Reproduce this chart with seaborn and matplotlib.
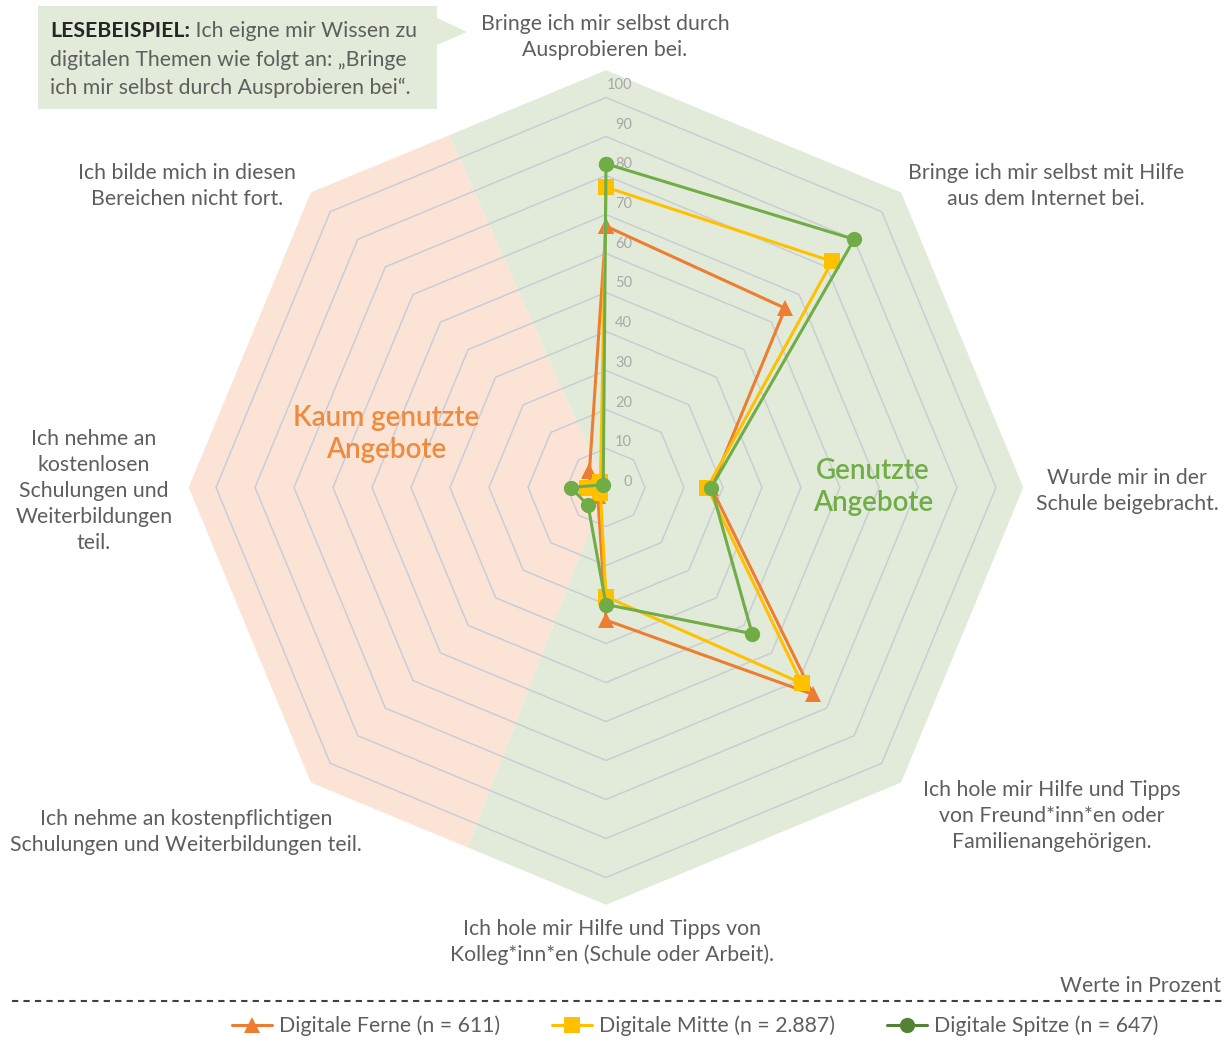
import numpy as np
import pandas as pd
import matplotlib.pyplot as plt
import seaborn as sns
from matplotlib.lines import Line2D
from matplotlib.patches import Polygon
from matplotlib.transforms import offset_copy

# Kategorien im Uhrzeigersinn, beginnend oben
kategorien = [
    "Bringe ich mir selbst durch\nAusprobieren bei.",
    "Bringe ich mir selbst mit Hilfe\naus dem Internet bei.",
    "Wurde mir in der\nSchule beigebracht.",
    "Ich hole mir Hilfe und Tipps\nvon Freund*inn*en oder\nFamilienangehörigen.",
    "Ich hole mir Hilfe und Tipps von\nKolleg*inn*en (Schule oder Arbeit).",
    "Ich nehme an kostenpflichtigen\nSchulungen und Weiterbildungen teil.",
    "Ich nehme an\nkostenlosen\nSchulungen und\nWeiterbildungen\nteil.",
    "Ich bilde mich in diesen\nBereichen nicht fort.",
]

gruppen = ["Digitale Ferne (n = 611)", "Digitale Mitte (n = 2.887)", "Digitale Spitze (n = 647)"]
ferne = [67, 65, 27, 75, 34, 3, 4, 6]
mitte = [77, 82, 26, 71, 28, 2, 5, 2]
spitze = [83, 90, 27, 53, 30, 6.5, 9, 1]

ticks = list(range(0, 101, 10))

farben = ["#ED7D31", "#FFC000", "#70AD47"]
legenden_farben = ["#ED7D31", "#FFC000", "#548235"]
marker = ["^", "s", "o"]

W, H = 1227, 1039
FS = 15.3
GRAU = "#5E5E5E"


def fx(x):
    return x / W


def fy(y):
    return 1 - y / H


sns.set_theme(style="white")
plt.rcParams["font.family"] = ["Lato", "DejaVu Sans"]

fig = plt.figure(figsize=(W / 100, H / 100), dpi=100)

# Polarachse: Mittelpunkt bei (606, 487.5) px, 10 Prozentpunkte = 39 px
rmax = 107.5
halb = rmax * 3.9
ax = fig.add_axes([fx(606 - halb), fy(487.5 + halb), 2 * halb / W, 2 * halb / H],
                  projection="polar")
ax.set_theta_offset(np.pi / 2)
ax.set_theta_direction(-1)
ax.set_ylim(0, rmax)
ax.set_axis_off()

n = len(kategorien)
winkel = np.arange(n + 1) * 2 * np.pi / n

# Hintergrund: Kaum genutzt (links) / Genutzt (rechts)
R = 107
Rc = R * np.cos(np.pi / 8)
d = np.deg2rad
peach = [(0, 0), (d(201), Rc), (d(225), R), (d(270), R), (d(315), R), (d(336), Rc)]
gruen = [(0, 0), (d(336), Rc), (d(360), R), (d(405), R), (d(450), R), (d(495), R),
         (d(540), R), (d(561), Rc)]
ax.add_patch(Polygon(peach, closed=True, facecolor="#FBE4D6", edgecolor="none", zorder=0))
ax.add_patch(Polygon(gruen, closed=True, facecolor="#E2EBD9", edgecolor="none", zorder=0))

# Gitternetz als Achtecke
for v in ticks[1:]:
    ax.plot(winkel, [v] * (n + 1), color="#C9CDD6", lw=1.1, zorder=1)

# Achsenbeschriftung 0..100
tr = offset_copy(ax.transData, fig=fig, x=26, y=5.5, units="dots")
for v in ticks:
    ax.text(0, v * 1.018, str(v), transform=tr, ha="right", va="center",
            fontsize=10.5, color="#A8A8A8", zorder=2)

# Daten
rows = []
for g, werte in zip(gruppen, [ferne, mitte, spitze]):
    for i in range(n + 1):
        rows.append({"gruppe": g, "theta": winkel[i], "wert": werte[i % n]})
df = pd.DataFrame(rows)

sns.lineplot(data=df, x="theta", y="wert", hue="gruppe", style="gruppe",
             palette=dict(zip(gruppen, farben)), markers=dict(zip(gruppen, marker)),
             dashes=False, sort=False, errorbar=None, lw=2.2, markersize=11,
             markeredgewidth=0, legend=False, ax=ax, zorder=3)

# Kategorienbeschriftungen
positionen = [(605, 37), (1046, 186), (1127, 491), (1052, 816), (612, 942),
              (186, 832), (94, 491), (187, 186)]
for txt, (x, y) in zip(kategorien, positionen):
    fig.text(fx(x), fy(y), txt, ha="center", va="center", multialignment="center",
             fontsize=FS, color=GRAU, linespacing=1.36)

fig.text(fx(386), fy(434), "Kaum genutzte\nAngebote", ha="center", va="center",
         fontsize=20, color="#F08A3C", fontweight="semibold", linespacing=1.3)
fig.text(fx(873), fy(487), "Genutzte\nAngebote", ha="center", va="center",
         fontsize=20, color="#70AD47", fontweight="semibold", linespacing=1.3)

# Lesebeispiel-Kasten
box = [(38, 6), (437, 6), (437, 18), (467, 32), (437, 45), (437, 109), (38, 109)]
fig.patches.append(Polygon([(fx(x), fy(y)) for x, y in box], closed=True,
                           transform=fig.transFigure, facecolor="#E2EBD9",
                           edgecolor="none", figure=fig))
t1 = fig.text(fx(50), fy(31), "LESEBEISPIEL:", ha="left", va="center",
              fontsize=FS, fontweight="bold", color="#262626")
fig.canvas.draw()
bb = t1.get_window_extent()
fig.text(bb.x1 / W, fy(31), " Ich eigne mir Wissen zu", ha="left", va="center",
         fontsize=FS, color=GRAU)
fig.text(fx(50), fy(59.5), "digitalen Themen wie folgt an: \u201eBringe", ha="left",
         va="center", fontsize=FS, color=GRAU)
fig.text(fx(50), fy(88), "ich mir selbst durch Ausprobieren bei\u201c.", ha="left",
         va="center", fontsize=FS, color=GRAU)

# Fußbereich
fig.text(fx(1221), fy(986), "Werte in Prozent", ha="right", va="center",
         fontsize=FS, color=GRAU)
fig.add_artist(Line2D([fx(12), fx(1222)], [fy(1001), fy(1001)], transform=fig.transFigure,
                      color="#404040", lw=1.5, ls=(0, (3, 2.5))))

handles = [Line2D([], [], color=c, marker=m, markersize=11, lw=2.2, markeredgewidth=0)
           for c, m in zip(legenden_farben, marker)]
fig.legend(handles, gruppen, loc="center", bbox_to_anchor=(fx(695), fy(1026)), ncol=3,
           frameon=False, fontsize=FS, handlelength=1.9, handletextpad=0.3,
           columnspacing=2.45, labelcolor=GRAU)

fig.savefig("out.png", dpi=100)
